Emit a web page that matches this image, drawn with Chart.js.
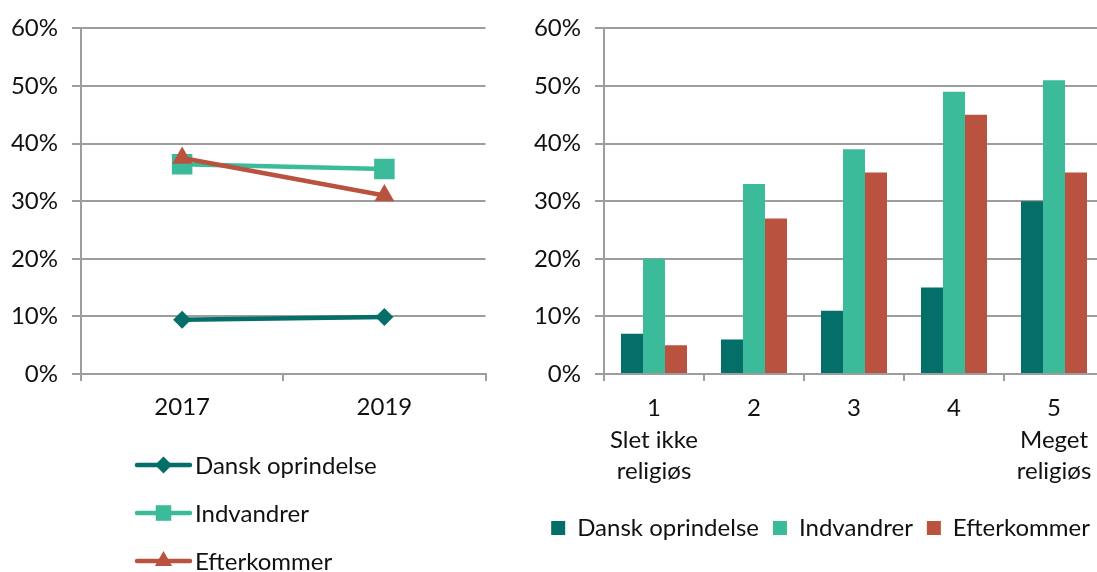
<!DOCTYPE html>
<html>
<head>
<meta charset="utf-8">
<script src="https://cdn.jsdelivr.net/npm/chart.js@4.4.1/dist/chart.umd.min.js"></script>
<style>
  html, body { margin: 0; padding: 0; background: #ffffff; }
  #wrap { position: relative; width: 1097px; height: 572px; overflow: hidden; background: #fff; }
  #leftBox { position: absolute; left: 0; top: 0; width: 500px; height: 572px; }
  #rightBox { position: absolute; left: 500px; top: 0; width: 660px; height: 572px; }
</style>
</head>
<body>
<div id="wrap">
  <div id="leftBox"><canvas id="lineChart" width="500" height="572"></canvas></div>
  <div id="rightBox"><canvas id="barChart" width="660" height="572"></canvas></div>
</div>
<script>
// ---- data ----
const seriesNames = ['Dansk oprindelse', 'Indvandrer', 'Efterkommer'];
const seriesColors = ['#046e68', '#3bbb9a', '#b9533f'];

const years = ['2017', '2019'];
const lineDansk = [9.4, 9.9];
const lineIndvandrer = [36.4, 35.6];
const lineEfterkommer = [37.5, 31.0];

const religCategories = [['1', 'Slet ikke', 'religiøs'], ['2'], ['3'], ['4'], ['5', 'Meget', 'religiøs']];
const barDansk = [7, 6, 11, 15, 30];
const barIndvandrer = [20, 33, 39, 49, 51];
const barEfterkommer = [5, 27, 35, 45, 35];

const yTicksMax = 60;
const yStep = 10;

// ---- styles ----
const FONT = 'Lato';
const FS = 24;
const gridColor = '#9d9d9d';
const textColor = '#111111';
Chart.defaults.font.family = FONT;
Chart.defaults.font.size = FS;
Chart.defaults.color = textColor;
Chart.defaults.animation = false;

function pct(v) { return v + '%'; }

function drawMarker(ctx, style, x, y, r, color) {
  ctx.save();
  ctx.fillStyle = color;
  ctx.beginPath();
  if (style === 'rectRot') {
    ctx.moveTo(x - r, y); ctx.lineTo(x, y - r); ctx.lineTo(x + r, y); ctx.lineTo(x, y + r);
  } else if (style === 'rect') {
    const s = r * Math.SQRT1_2;
    ctx.rect(x - s, y - s, 2 * s, 2 * s);
  } else if (style === 'triangle') {
    const h = r * Math.sqrt(3) / 2;
    ctx.moveTo(x, y - r); ctx.lineTo(x + h, y + r / 2); ctx.lineTo(x - h, y + r / 2);
  }
  ctx.closePath();
  ctx.fill();
  ctx.restore();
}

// custom vertical legend for the line chart (line + marker + label)
const verticalLegend = {
  id: 'verticalLegend',
  afterDraw(chart, args, opts) {
    const ctx = chart.ctx;
    const ds = chart.data.datasets;
    ctx.save();
    ctx.font = FS + 'px ' + FONT;
    ctx.textBaseline = 'middle';
    ctx.textAlign = 'left';
    for (let i = 0; i < ds.length; i++) {
      const y = opts.top + i * opts.rowGap;
      const x0 = opts.left, x1 = opts.left + opts.lineLen;
      ctx.strokeStyle = ds[i].borderColor;
      ctx.lineWidth = ds[i].borderWidth;
      ctx.lineCap = 'round';
      ctx.beginPath(); ctx.moveTo(x0, y); ctx.lineTo(x1, y); ctx.stroke();
      drawMarker(ctx, ds[i].pointStyle, (x0 + x1) / 2, y, opts.markerR[i], ds[i].borderColor);
      ctx.fillStyle = textColor;
      ctx.fillText(ds[i].label, x1 + 5, y + 1);
    }
    ctx.restore();
  }
};

const yScaleCommon = {
  min: 0, max: yTicksMax,
  ticks: { stepSize: yStep, callback: pct, padding: 14, color: textColor, font: { size: FS, family: FONT } },
  grid: { color: gridColor, lineWidth: 2, tickLength: 9, drawTicks: true },
  border: { color: gridColor, width: 2 }
};

// ---- line chart ----
new Chart(document.getElementById('lineChart'), {
  type: 'line',
  data: {
    labels: years,
    datasets: [
      { label: seriesNames[0], data: lineDansk, borderColor: seriesColors[0], backgroundColor: seriesColors[0],
        borderWidth: 4.5, pointStyle: 'rectRot', pointRadius: 9, pointBorderWidth: 0, order: 3 },
      { label: seriesNames[1], data: lineIndvandrer, borderColor: seriesColors[1], backgroundColor: seriesColors[1],
        borderWidth: 4.5, pointStyle: 'rect', pointRadius: 14.5, pointBorderWidth: 0, order: 2 },
      { label: seriesNames[2], data: lineEfterkommer, borderColor: seriesColors[2], backgroundColor: seriesColors[2],
        borderWidth: 4.5, pointStyle: 'triangle', pointRadius: 11.5, pointBorderWidth: 0, order: 1 }
    ]
  },
  options: {
    responsive: false,
    layout: { padding: { top: 26, right: 13, left: 0, bottom: 0 } },
    plugins: {
      legend: { display: false },
      tooltip: { enabled: false },
      verticalLegend: { left: 137, top: 465, rowGap: 48, lineLen: 53, markerR: [8.5, 11, 10] }
    },
    scales: {
      x: {
        offset: true,
        grid: { offset: true, drawOnChartArea: false, drawTicks: true, tickLength: 7, color: gridColor, lineWidth: 2 },
        border: { color: gridColor, width: 2 },
        ticks: { padding: 12, color: textColor, font: { size: FS, family: FONT } },
        afterFit(s) { s.height = 198; }
      },
      y: Object.assign({}, yScaleCommon, { afterFit(s) { s.width = 81; } })
    }
  },
  plugins: [verticalLegend]
});

// ---- bar chart ----
new Chart(document.getElementById('barChart'), {
  type: 'bar',
  data: {
    labels: religCategories,
    datasets: [
      { label: seriesNames[0], data: barDansk, backgroundColor: seriesColors[0] },
      { label: seriesNames[1], data: barIndvandrer, backgroundColor: seriesColors[1] },
      { label: seriesNames[2], data: barEfterkommer, backgroundColor: seriesColors[2] }
    ]
  },
  options: {
    responsive: false,
    categoryPercentage: 0.66,
    barPercentage: 1.0,
    layout: { padding: { top: 26, right: 56, left: 0, bottom: 22 } },
    plugins: {
      tooltip: { enabled: false },
      legend: {
        position: 'bottom',
        align: 'end',
        labels: { boxWidth: 14, boxHeight: 14, padding: 14, color: textColor, font: { size: FS, family: FONT } }
      }
    },
    scales: {
      x: {
        offset: true,
        grid: { offset: true, drawOnChartArea: false, drawTicks: true, tickLength: 7, color: gridColor, lineWidth: 2 },
        border: { color: gridColor, width: 2 },
        ticks: { padding: 12, color: textColor, font: { size: FS, family: FONT, lineHeight: 1.3 } },
        afterFit(s) { s.height = 128; }
      },
      y: Object.assign({}, yScaleCommon, { afterFit(s) { s.width = 104; } })
    }
  }
});
</script>
</body>
</html>
